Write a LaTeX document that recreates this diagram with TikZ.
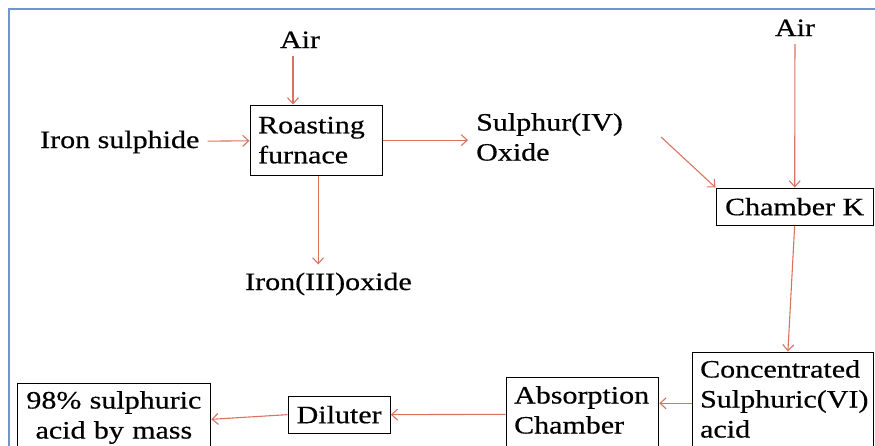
\documentclass[tikz,border=0pt]{standalone}
\usepackage{fontspec}
\setmainfont{Liberation Serif}[FakeStretch=1.2,FakeBold=0.5]
\usepackage{tikz}
\usetikzlibrary{arrows.meta,positioning}
\definecolor{flow}{HTML}{D9735F}
\definecolor{edge}{HTML}{7393CB}

\begin{document}
\begin{tikzpicture}[
    x=1pt,y=-1pt,
    every node/.style={font=\fontsize{25}{30}\selectfont},
    box/.style={draw,line width=1.3pt,inner xsep=8pt,inner ysep=5pt,align=left},
    txt/.style={inner sep=8pt,align=left},
    arrow/.style={flow,line width=1.1pt,-{Straight Barb[length=6pt,width=11pt]}}
  ]
    \useasboundingbox (0,0) rectangle (875,445);
    % page frame
    \draw[edge,line width=2pt] (9,446) -- (9,9) -- (876,9);

    % roasting stage
    \node[box,anchor=north west,text width=116pt,minimum height=70pt] (roast) at (249.5,104.5) {Roasting\\furnace};
    \node[txt,anchor=base] (air1) at (300,48) {Air};
    \node[txt,anchor=base west] (fes) at (32,148) {Iron sulphide};
    \node[txt,anchor=north west] (so2) at (468,105) {Sulphur(IV)\\Oxide};
    \node[txt,anchor=base west] (fe2o3) at (237,290) {Iron(III)oxide};

    % chamber K and the rest
    \node[box,anchor=north west,minimum width=157pt,minimum height=37pt,align=center] (chk) at (715.5,187.5) {Chamber K};
    \node[txt,anchor=base] (air2) at (795,36) {Air};
    \node[box,anchor=north west,text width=165.5pt,inner ysep=8pt] (conc) at (691.5,351.5) {Concentrated\\Sulphuric(VI)\\acid\strut};
    \node[box,anchor=north west,text width=136.5pt,inner ysep=9pt] (absorb) at (505.5,376.5) {Absorption\\Chamber\strut};
    \node[box,anchor=north west,minimum width=102pt,minimum height=37pt,align=center] (dil) at (287.5,395.5) {Diluter};
    \node[box,anchor=north west,text width=177.5pt,inner ysep=8pt,align=center] (acid) at (16.5,382.5) {98\% sulphuric\\acid by mass\strut};

    \draw[arrow] (fes) -- (roast);
    \draw[arrow] ([xshift=-7pt]air1.south) -- ([xshift=-7pt]air1.south |- roast.north);
    \draw[arrow] (roast.east) -- (roast.east -| so2.west);
    \draw[arrow] ([xshift=2pt]roast.south) -- ([xshift=2pt]roast.south |- fe2o3.north);
    \draw[arrow] ([xshift=30pt]so2.east) -- (chk.north west);
    \draw[arrow] (air2) -- (chk);
    \draw[arrow] (chk.south) -- ([xshift=5pt]conc.north);
    \draw[arrow] (conc.west) -- (conc.west -| absorb.east);
    \draw[arrow] (absorb.west) -- (dil.east);
    \draw[arrow] (dil.west) -- (acid.east);
  \end{tikzpicture}
\end{document}
